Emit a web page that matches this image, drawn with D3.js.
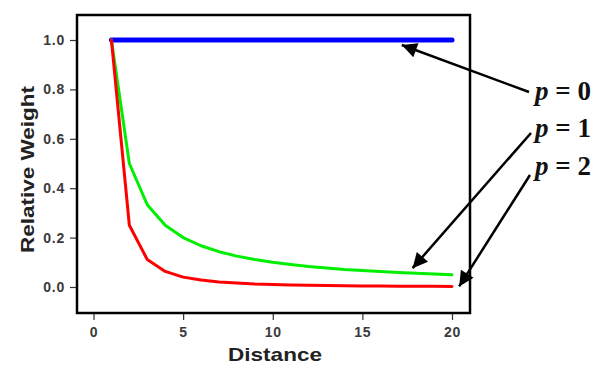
<!DOCTYPE html>
<html>
<head>
<meta charset="utf-8">
<script src="https://cdn.jsdelivr.net/npm/d3@7"></script>
<style>
    body { margin: 0; background: #fff; }
    .tick text { font-family: Arial, "Liberation Sans", sans-serif; font-weight: bold; font-size: 14px; letter-spacing: 0.8px; fill: #3a3a3a; }
</style>
</head>
<body>
<script>
// distances and relative weights
const distance = [1, 2, 3, 4, 5, 6, 7, 8, 9, 10, 11, 12, 13, 14, 15, 16, 17, 18, 19, 20];
const weightP0 = [1, 1, 1, 1, 1, 1, 1, 1, 1, 1, 1, 1, 1, 1, 1, 1, 1, 1, 1, 1];
const weightP1 = [1, 0.5, 0.333, 0.25, 0.2, 0.167, 0.143, 0.125, 0.111, 0.1,
    0.091, 0.083, 0.077, 0.071, 0.067, 0.063, 0.059, 0.056, 0.053, 0.05];
const weightP2 = [1, 0.25, 0.111, 0.063, 0.04, 0.028, 0.02, 0.016, 0.012, 0.01,
    0.008, 0.007, 0.006, 0.005, 0.0044, 0.0039, 0.0035, 0.0031, 0.0028, 0.0025];
const xTicks = [0, 5, 10, 15, 20];
const yTicks = [0, 0.2, 0.4, 0.6, 0.8, 1.0];
const labels = ['p = 0', 'p = 1', 'p = 2'];

const width = 595;
const height = 365;

// frame of the plotting region
const frameLeft = 77;
const frameRight = 470;
const frameTop = 15;
const frameBottom = 313;

const svg = d3.select('body')
    .append('svg')
    .attr('width', width)
    .attr('height', height);

const x = d3.scaleLinear().domain([0, 20]).range([93.5, 452]);
const y = d3.scaleLinear().domain([0, 1]).range([287, 40]);

// axes sit outside the frame
const xAxis = d3.axisBottom(x).tickValues(xTicks).tickSize(6).tickPadding(7).tickFormat(d3.format('d'));
const yAxis = d3.axisLeft(y).tickValues(yTicks).tickSize(6).tickPadding(5).tickFormat(d3.format('.1f'));

svg.append('g')
    .attr('transform', `translate(0,${frameBottom + 1})`)
    .call(xAxis)
    .call(g => g.select('.domain').remove())
    .call(g => g.selectAll('.tick line').attr('stroke', '#333').attr('stroke-width', 1.2));

svg.append('g')
    .attr('transform', `translate(${frameLeft - 1},0)`)
    .call(yAxis)
    .call(g => g.select('.domain').remove())
    .call(g => g.selectAll('.tick line').attr('stroke', '#333').attr('stroke-width', 1.2));

// curves
const series = [
    { values: weightP0, color: '#0000ff', w: 5 },
    { values: weightP1, color: '#00ee00', w: 3 },
    { values: weightP2, color: '#ff0000', w: 3 }
];

const lineGenerator = d3.line()
    .x(d => x(d[0]))
    .y(d => y(d[1]));

svg.selectAll('path.curve')
    .data(series)
    .enter()
    .append('path')
    .attr('class', 'curve')
    .attr('d', s => lineGenerator(distance.map((d, i) => [d, s.values[i]])))
    .attr('fill', 'none')
    .attr('stroke', s => s.color)
    .attr('stroke-width', s => s.w)
    .attr('stroke-linecap', 'round')
    .attr('stroke-linejoin', 'round');

// frame
svg.append('rect')
    .attr('x', frameLeft)
    .attr('y', frameTop)
    .attr('width', frameRight - frameLeft)
    .attr('height', frameBottom - frameTop)
    .attr('fill', 'none')
    .attr('stroke', '#000')
    .attr('stroke-width', 2.5);

// axis titles
svg.append('text')
    .attr('x', 228)
    .attr('y', 361)
    .attr('textLength', 94)
    .attr('lengthAdjust', 'spacingAndGlyphs')
    .attr('font-family', 'Arial, "Liberation Sans", sans-serif')
    .attr('font-weight', 'bold')
    .attr('font-size', 19)
    .attr('fill', '#222')
    .text('Distance');

svg.append('text')
    .attr('transform', 'translate(34,253) rotate(-90)')
    .attr('textLength', 167)
    .attr('lengthAdjust', 'spacingAndGlyphs')
    .attr('font-family', 'Arial, "Liberation Sans", sans-serif')
    .attr('font-weight', 'bold')
    .attr('font-size', 18)
    .attr('fill', '#222')
    .text('Relative Weight');

// arrow marker
svg.append('defs')
    .append('marker')
    .attr('id', 'head')
    .attr('viewBox', '0 0 10 10')
    .attr('refX', 10)
    .attr('refY', 5)
    .attr('markerUnits', 'userSpaceOnUse')
    .attr('markerWidth', 20)
    .attr('markerHeight', 15)
    .attr('orient', 'auto')
    .append('path')
    .attr('d', 'M0,0 L10,5 L0,10 Z')
    .attr('fill', '#000');

// labels with arrows pointing at each curve
const labelY = [100, 137, 175];
const arrowFrom = [[529, 92], [531, 133], [530, 175]];
const arrowTo = [
    [x(17.2), y(weightP0[17]) + 5],
    [x(17.8), y(weightP1[17]) - 5],
    [x(20.4), y(weightP2[19])]
];

svg.selectAll('line.arrow')
    .data(labels)
    .enter()
    .append('line')
    .attr('class', 'arrow')
    .attr('x1', (d, i) => arrowFrom[i][0])
    .attr('y1', (d, i) => arrowFrom[i][1])
    .attr('x2', (d, i) => arrowTo[i][0])
    .attr('y2', (d, i) => arrowTo[i][1])
    .attr('stroke', '#000')
    .attr('stroke-width', 2.5)
    .attr('marker-end', 'url(#head)');

const label = svg.selectAll('text.plabel')
    .data(labels)
    .enter()
    .append('text')
    .attr('class', 'plabel')
    .attr('x', 535)
    .attr('y', (d, i) => labelY[i])
    .attr('font-family', '"Liberation Serif", "DejaVu Serif", serif')
    .attr('font-weight', 'bold')
    .attr('font-size', 27)
    .attr('fill', '#111');

label.append('tspan').attr('font-style', 'italic').text('p');
label.append('tspan').text(d => d.slice(1));
</script>
</body>
</html>
